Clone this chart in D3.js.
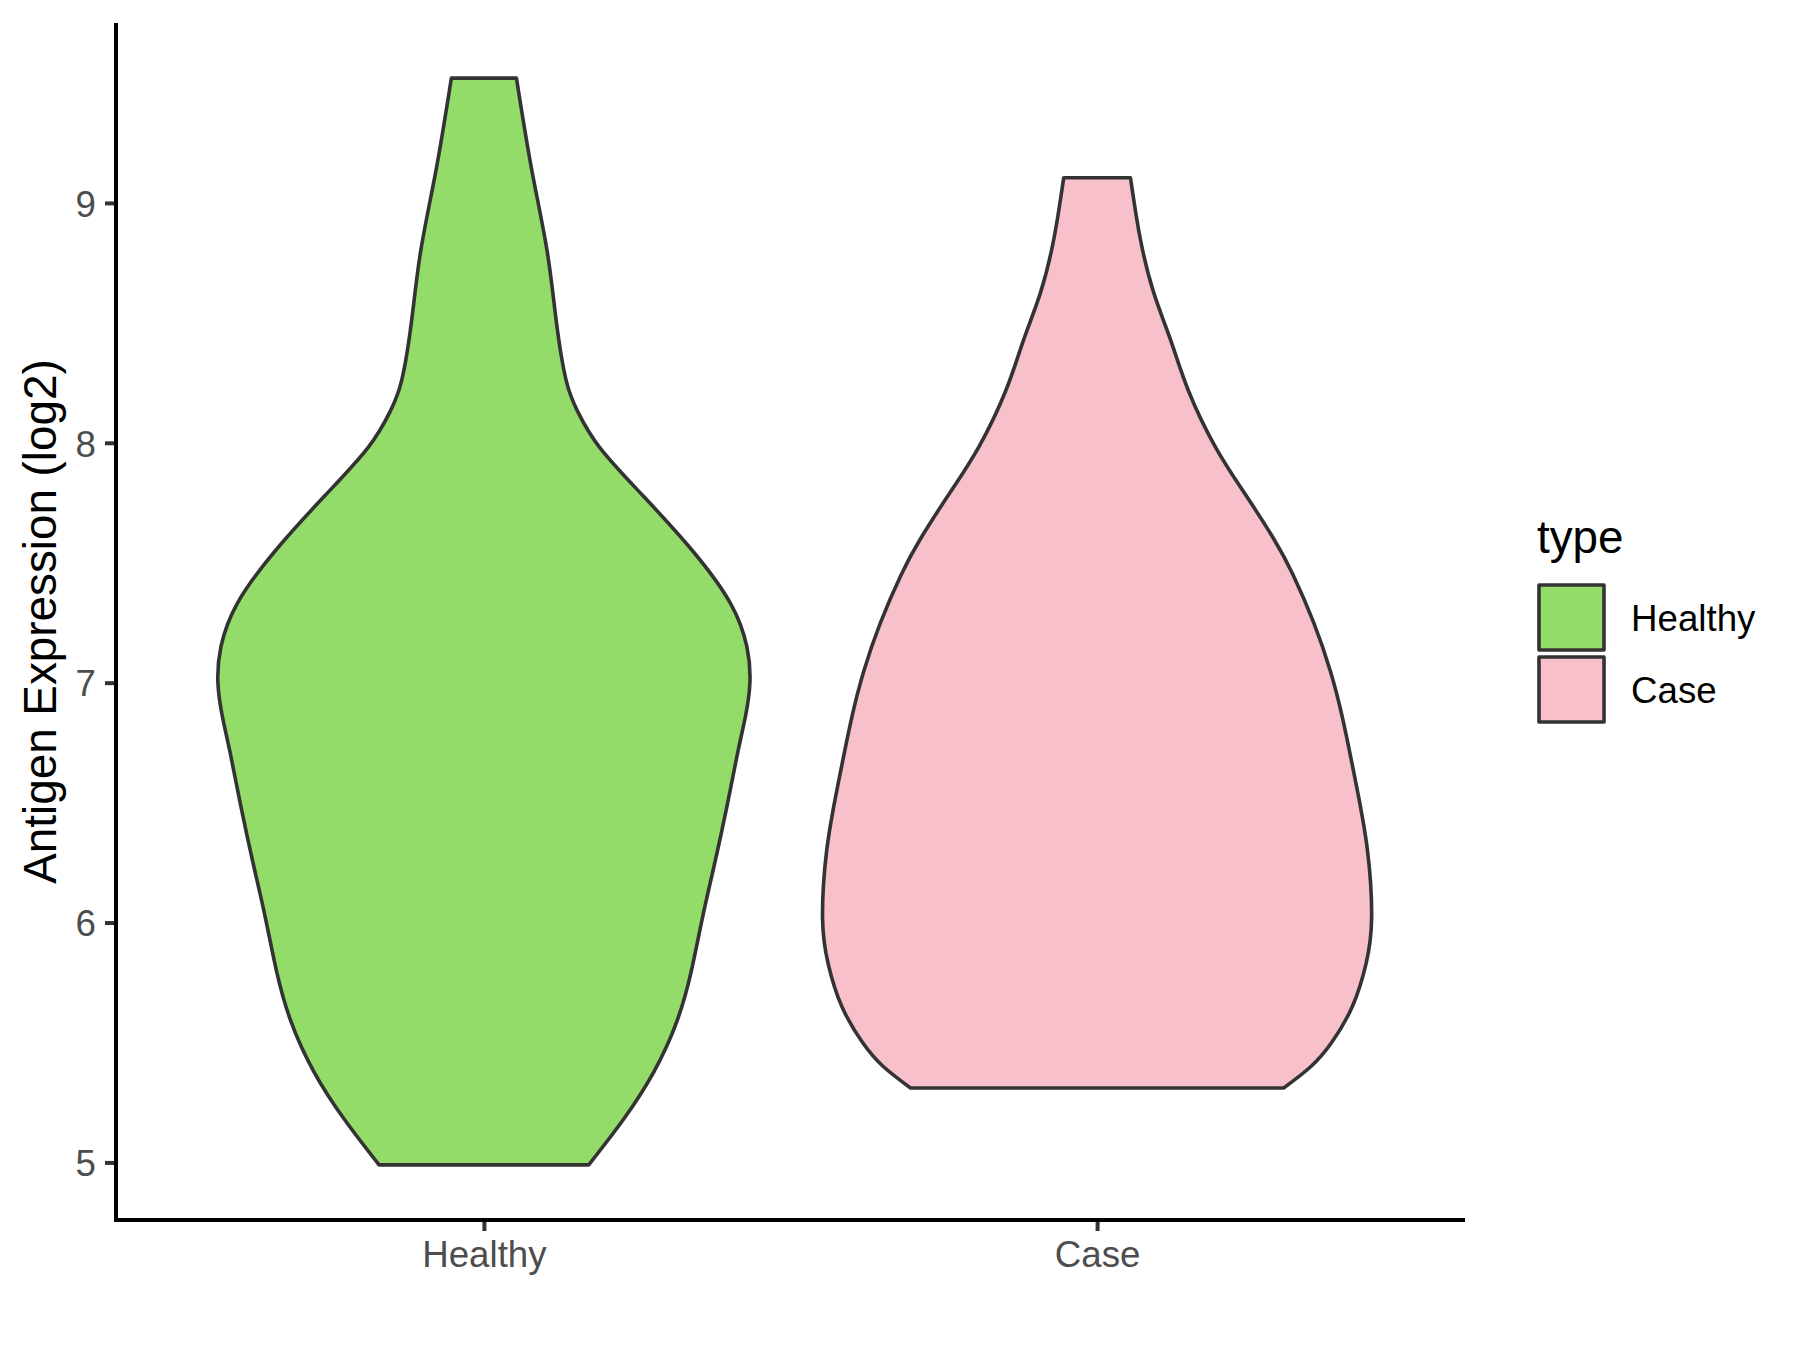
<!DOCTYPE html>
<html>
<head>
<meta charset="utf-8">
<script src="https://cdn.jsdelivr.net/npm/d3@7"></script>
<style>
  html, body { margin: 0; padding: 0; background: #ffffff; }
  svg { display: block; }
  text { font-family: "Liberation Sans", Arial, sans-serif; }
</style>
</head>
<body>
<svg id="chart" width="1800" height="1350"></svg>
<script>
// ---- Data ----
const categories = ["Healthy", "Case"];
const fillColors = ["#94DC6A", "#F7C0CA"];
const yTicks = [5, 6, 7, 8, 9];
const yDomain = [4.76, 9.75];

// expression value (log2) and relative density (1 = widest violin)
const healthyValues  = [4.99, 5.18, 5.38, 5.59, 5.80, 6.02, 6.24, 6.48, 6.71, 6.86, 7.00, 7.15, 7.33, 7.55, 7.78, 7.98, 8.13, 8.26, 8.50, 8.80, 9.14, 9.52];
const healthyDensity = [0.38, 0.506, 0.617, 0.70, 0.752, 0.792, 0.835, 0.88, 0.92, 0.948, 0.964, 0.953, 0.894, 0.756, 0.576, 0.42, 0.34, 0.298, 0.263, 0.229, 0.173, 0.118];

const caseValues  = [5.31, 5.40, 5.50, 5.65, 5.83, 6.02, 6.30, 6.57, 6.85, 7.05, 7.25, 7.45, 7.60, 7.78, 7.98, 8.22, 8.43, 8.63, 8.86, 9.105];
const caseDensity = [0.676, 0.775, 0.85, 0.925, 0.975, 0.995, 0.98, 0.94, 0.89, 0.845, 0.785, 0.71, 0.64, 0.54, 0.43, 0.33, 0.266, 0.204, 0.155, 0.121];

const groups = [
  { name: categories[0], values: healthyValues, density: healthyDensity, fill: fillColors[0] },
  { name: categories[1], values: caseValues, density: caseDensity, fill: fillColors[1] }
];

// ---- Layout ----
const panel = { left: 116, right: 1465, top: 23, bottom: 1220 };
const outline = "#333333";

const svg = d3.select("#chart");

// ggplot discrete scale: positions 1..n, expanded by 0.6 each side
const xLin = d3.scaleLinear().domain([0.4, categories.length + 0.6]).range([panel.left, panel.right]);
const xPos = name => xLin(categories.indexOf(name) + 1);
const unit = xLin(1) - xLin(0);
const halfMax = 0.45 * unit;

const y = d3.scaleLinear().domain(yDomain).range([panel.bottom, panel.top]);

// ---- Violins ----
groups.forEach(g => {
  const pts = g.values.map((v, i) => ({ v: v, d: g.density[i] }));
  const cx = xPos(g.name);
  const area = d3.area()
    .y(p => y(p.v))
    .x0(p => cx - p.d * halfMax)
    .x1(p => cx + p.d * halfMax)
    .curve(d3.curveNatural);
  svg.append("path")
    .attr("d", area(pts))
    .attr("fill", g.fill)
    .attr("stroke", outline)
    .attr("stroke-width", 3.6)
    .attr("stroke-linejoin", "round");
});

// ---- Axes ----
const yAxis = d3.axisLeft(y).tickValues(yTicks).tickSize(11).tickPadding(9).tickFormat(d3.format("d"));
const gy = svg.append("g").attr("transform", `translate(${panel.left},0)`).call(yAxis);
gy.select(".domain").remove();
gy.selectAll(".tick line").attr("stroke", outline).attr("stroke-width", 4);
gy.selectAll(".tick text").attr("fill", "#4D4D4D").style("font-size", "36.7px").attr("dy", "0.36em");

const xAxis = d3.axisBottom(xLin).tickValues(categories.map((c, i) => i + 1))
  .tickFormat((d) => categories[d - 1]).tickSize(11).tickPadding(9);
const gx = svg.append("g").attr("transform", `translate(0,${panel.bottom})`).call(xAxis);
gx.select(".domain").remove();
gx.selectAll(".tick line").attr("stroke", outline).attr("stroke-width", 4);
gx.selectAll(".tick text").attr("fill", "#4D4D4D").style("font-size", "36.7px").attr("dy", "0.74em");

// axis lines
svg.append("line").attr("x1", panel.left).attr("x2", panel.left)
  .attr("y1", panel.top).attr("y2", panel.bottom + 2)
  .attr("stroke", "#000").attr("stroke-width", 4);
svg.append("line").attr("x1", panel.left - 2).attr("x2", panel.right)
  .attr("y1", panel.bottom).attr("y2", panel.bottom)
  .attr("stroke", "#000").attr("stroke-width", 4);

// y axis title
svg.append("text")
  .attr("transform", `translate(56,${(panel.top + panel.bottom) / 2}) rotate(-90)`)
  .attr("text-anchor", "middle")
  .attr("fill", "#000")
  .style("font-size", "45.8px")
  .text("Antigen Expression (log2)");

// ---- Legend ----
const legend = svg.append("g");
legend.append("text").attr("x", 1537).attr("y", 553)
  .attr("fill", "#000").style("font-size", "45.8px").text("type");
categories.forEach((c, i) => {
  const top = 585 + i * 72;
  legend.append("rect")
    .attr("x", 1539).attr("y", top)
    .attr("width", 65).attr("height", 65)
    .attr("fill", fillColors[i])
    .attr("stroke", outline).attr("stroke-width", 3.6)
    .attr("stroke-linejoin", "round");
  legend.append("text")
    .attr("x", 1631).attr("y", top + 32.5)
    .attr("dy", "0.36em")
    .attr("fill", "#000").style("font-size", "36.7px").text(c);
});
</script>
</body>
</html>
